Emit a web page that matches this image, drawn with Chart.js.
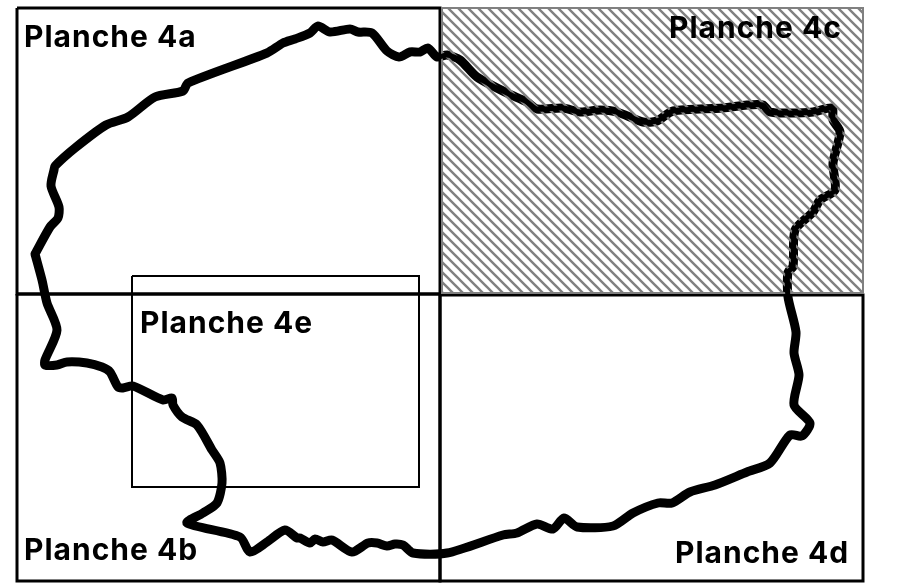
<!DOCTYPE html>
<html>
<head>
<meta charset="utf-8">
<style>
	html, body { margin: 0; padding: 0; background: #fff; }
	#wrap { width: 904px; height: 583px; }
</style>
<script src="https://cdn.jsdelivr.net/npm/chart.js@4.4.0/dist/chart.umd.js"></script>
</head>
<body>
<div id="wrap"><canvas id="map" width="904" height="583"></canvas></div>
<script>
// Contour, clockwise from the western corner
const contourX = [35,50,58,59,51,54,55,75,106,128,155,183,188,267,283,295,310,318,330,350,358,372,387,399,410,420,428,437,447,460,477,507,527,537,563,580,600,617,643,657,673,723,747,763,770,790,813,832,833,840,833,835,820,813,795,793,788,788,796,794,799,794,810,802,790,770,747,715,690,672,658,633,613,577,564,553,537,517,503,447,413,403,395,387,377,368,352,332,323,315,310,300,297,285,267,250,240,187,203,217,222,220,212,197,182,173,172,163,133,123,118,110,102,87,67,57,45,45,57,47,42,35];
const contourY = [254,227,218,207,186,170,166,148,125,117,97,91,83,53,43,39,33,26,32,29,32,33,51,57,52,52,48,57,55,60,77,93,102,109,108,112,110,112,122,121,111,108,105,105,112,113,112,108,120,132,163,190,200,212,230,267,272,297,332,353,375,405,423,436,435,463,472,485,492,503,503,513,526,527,518,529,524,533,535,553,553,545,544,546,543,543,552,540,542,539,543,538,538,530,542,552,537,523,513,503,483,463,450,425,417,405,398,400,386,388,387,372,367,363,362,365,365,360,330,303,280,254];

// Sheet frames
const frameAX = [17,440,440,17,17];
const frameAY = [8,8,294,294,8];
const frameBX = [17,440,440,17,17];
const frameBY = [294,294,581,581,294];
const frameCX = [442,863,863,442,442];
const frameCY = [8,8,293,293,8];
const frameDX = [440,863,863,440,440];
const frameDY = [295,295,581,581,295];
const frameEX = [132,419,419,132,132];
const frameEY = [276,276,487,487,276];

const labelNames = ['Planche 4a','Planche 4b','Planche 4c','Planche 4d','Planche 4e'];
const labelX = [24,24,669,675,140];
const labelY = [47,560,38,563,333];

const zip = (xs, ys) => xs.map((x, i) => ({x: x, y: ys[i]}));

const hatchPattern = (ctx) => {
	const size = 10;
	const tile = document.createElement('canvas');
	tile.width = size;
	tile.height = size;
	const c = tile.getContext('2d');
	c.strokeStyle = '#808080';
	c.lineWidth = 2.4;
	c.lineCap = 'square';
	for (let k = -size; k <= size; k += size) {
		c.beginPath();
		c.moveTo(k, 0);
		c.lineTo(k + size, size);
		c.stroke();
	}
	return ctx.createPattern(tile, 'repeat');
};

// Writes the sheet names at the points of the label dataset
const sheetLabels = {
	id: 'sheetLabels',
	beforeDatasetDraw(chart, args) {
		// names go on before the hatched frame is filled, so the hatching crosses 4c
		if (chart.data.datasets[args.index].label !== 'Planche 4c') return;
		const {ctx, scales} = chart;
		ctx.save();
		ctx.fillStyle = '#000';
		ctx.font = 'bold 30px Inter';
		ctx.letterSpacing = '1px';
		ctx.textBaseline = 'alphabetic';
		labelNames.forEach((name, i) => {
			ctx.fillText(name, scales.x.getPixelForValue(labelX[i]), scales.y.getPixelForValue(labelY[i]));
		});
		ctx.restore();
	}
};

const frame = (label, xs, ys, color, width, extra) => Object.assign({
	label: label,
	data: zip(xs, ys),
	showLine: true,
	borderColor: color,
	borderWidth: width,
	pointRadius: 0,
	tension: 0,
	fill: false
}, extra);

const contour = (label, width) => frame(label, contourX, contourY, '#000', width, {
	tension: 0.25,
	borderJoinStyle: 'round',
	borderCapStyle: 'round'
});

const canvas = document.getElementById('map');

// first dataset ends up on top
new Chart(canvas, {
	type: 'scatter',
	data: {
		datasets: [
			contour('Contour core', 5),
			frame('Planche 4e', frameEX, frameEY, '#000', 2),
			frame('Planche 4c', frameCX, frameCY, '#808080', 2, {
				fill: 'shape',
				backgroundColor: hatchPattern(canvas.getContext('2d'))
			}),
			frame('Planche 4a', frameAX, frameAY, '#000', 3),
			frame('Planche 4b', frameBX, frameBY, '#000', 3),
			frame('Planche 4d', frameDX, frameDY, '#000', 3),
			contour('Contour', 9)
		]
	},
	options: {
		responsive: false,
		animation: false,
		layout: {padding: 0},
		plugins: {
			legend: {display: false},
			tooltip: {enabled: false},
			title: {display: false}
		},
		scales: {
			x: {type: 'linear', display: false, min: 0, max: 904},
			y: {type: 'linear', display: false, min: 0, max: 583, reverse: true}
		}
	},
	plugins: [sheetLabels]
});
</script>
</body>
</html>
